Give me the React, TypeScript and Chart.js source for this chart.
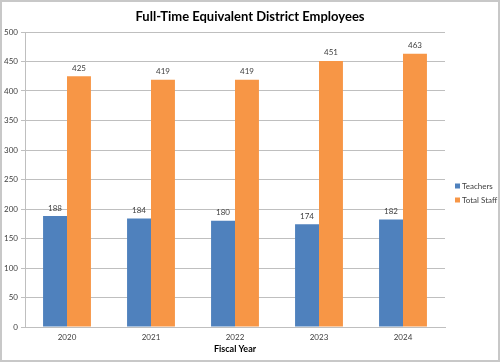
import React, { useEffect, useRef } from "react";
import { Chart, registerables } from "chart.js";

Chart.register(...registerables);

const categories = ["2020", "2021", "2022", "2023", "2024"];
const teachers = [188, 184, 180, 174, 182];
const totalStaff = [425, 419, 419, 451, 463];
const seriesNames = ["Teachers", "Total Staff"];
const titleText = "Full-Time Equivalent District Employees";
const xTitle = "Fiscal Year";

const FONT = "Lato, 'Open Sans', sans-serif";

export default function App() {
  const ref = useRef<HTMLCanvasElement>(null);
  useEffect(() => {
    const canvas = ref.current!;
    const decor = {
      id: "decor",
      beforeDraw(chart: any) {
        const { ctx, width, height } = chart;
        ctx.save();
        ctx.fillStyle = "#ffffff";
        ctx.fillRect(0, 0, width, height);
        ctx.restore();
      },
      afterDatasetsDraw(chart: any) {
        const { ctx } = chart;
        ctx.save();
        ctx.font = `8px ${FONT}`;
        ctx.fillStyle = "#404040";
        ctx.textAlign = "center";
        ctx.textBaseline = "middle";
        chart.data.datasets.forEach((ds: any, i: number) => {
          const meta = chart.getDatasetMeta(i);
          meta.data.forEach((el: any, j: number) => {
            ctx.fillText(String(ds.data[j]), el.x, el.y - 8);
          });
        });
        ctx.restore();
      },
      afterDraw(chart: any) {
        const { ctx, width, height } = chart;
        ctx.save();
        // title
        ctx.font = `bold 13px ${FONT}`;
        ctx.fillStyle = "#000000";
        ctx.textAlign = "center";
        ctx.textBaseline = "middle";
        ctx.fillText(titleText, 250, 17);
        // legend
        ctx.font = `8px ${FONT}`;
        ctx.textAlign = "left";
        chart.data.datasets.forEach((ds: any, i: number) => {
          const y = 186 + i * 14;
          ctx.fillStyle = ds.backgroundColor;
          ctx.fillRect(455, y - 2.5, 5, 5);
          ctx.fillStyle = "#404040";
          ctx.fillText(ds.label, 462, y);
        });
        // border
        ctx.strokeStyle = "#c8c8c8";
        ctx.lineWidth = 2;
        ctx.strokeRect(1, 1, width - 2, height - 2);
        ctx.restore();
      },
    };
    const chart = new Chart(canvas, {
      type: "bar",
      data: {
        labels: categories,
        datasets: [
          {
            label: seriesNames[0],
            data: teachers,
            backgroundColor: "#4F81BD",
            borderWidth: 0,
          },
          {
            label: seriesNames[1],
            data: totalStaff,
            backgroundColor: "#F79646",
            borderWidth: 0,
          },
        ],
      },
      options: {
        responsive: false,
        animation: false,
        devicePixelRatio: 1,
        layout: { padding: { top: 32, right: 55, left: 0, bottom: 0 } },
        plugins: {
          legend: { display: false },
          title: { display: false },
          tooltip: { enabled: false },
        },
        datasets: { bar: { categoryPercentage: 0.57, barPercentage: 1 } },
        scales: {
          x: {
            grid: { display: false, drawTicks: false },
            border: { display: true, color: "#bfbfbf", width: 1 },
            ticks: { font: { family: FONT, size: 8 }, color: "#404040", padding: 6 },
            title: {
              display: true,
              text: xTitle,
              font: { family: FONT, size: 9, weight: "bold" },
              color: "#000000",
              padding: { top: 0, bottom: 8 },
            },
            afterFit(scale: any) {
              scale.height = 35;
            },
          },
          y: {
            min: 0,
            max: 500,
            ticks: {
              stepSize: 50,
              font: { family: FONT, size: 8 },
              color: "#404040",
              padding: 3,
            },
            grid: { color: "#bfbfbf", lineWidth: 1, tickLength: 4 },
            border: { display: true, color: "#bfbfbf", width: 1 },
            afterFit(scale: any) {
              scale.width = 25;
            },
          },
        },
      },
      plugins: [decor],
    });
    return () => chart.destroy();
  }, []);
  return (
    <div style={{ position: "absolute", left: 0, top: 0, width: 500, height: 362 }}>
      <canvas ref={ref} width={500} height={362} style={{ display: "block" }} />
    </div>
  );
}
